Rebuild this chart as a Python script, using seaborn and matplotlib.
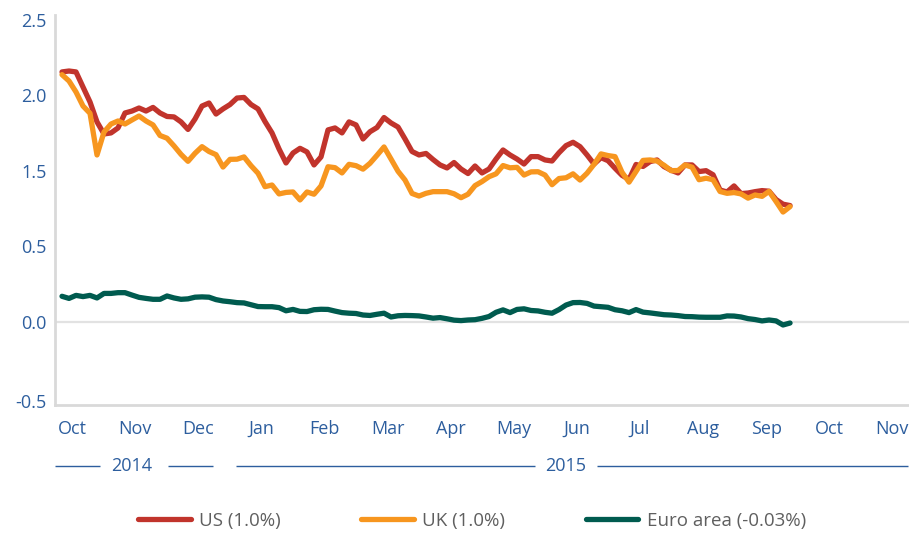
import numpy as np
import pandas as pd
import matplotlib
matplotlib.use("Agg")
import matplotlib.pyplot as plt
import matplotlib.transforms as mtransforms
import seaborn as sns

# ---------------- data ----------------
months = ["Oct", "Nov", "Dec", "Jan", "Feb", "Mar", "Apr", "May", "Jun",
          "Jul", "Aug", "Sep", "Oct", "Nov"]
ytick_values = [-0.5, 0.0, 0.5, 1.0, 1.5, 2.0]
ytick_labels = ["-0.5", "0.0", "0.5", "1.5", "2.0", "2.5"]
series_names = ["US (1.0%)", "UK (1.0%)", "Euro area (-0.03%)"]
colors = ["#c1342c", "#f7961f", "#005b4f"]

# first and last observation, in month positions (0 = first "Oct" label)
obs_start, obs_end = -0.158, 11.379

us = [1.656, 1.662, 1.656, 1.556, 1.457, 1.325, 1.245, 1.252, 1.285, 1.384,
      1.397, 1.417, 1.397, 1.421, 1.384, 1.361, 1.358, 1.325, 1.275, 1.344,
      1.430, 1.450, 1.377, 1.411, 1.440, 1.483, 1.487, 1.440, 1.411, 1.327,
      1.252, 1.146, 1.053, 1.119, 1.150, 1.126, 1.040, 1.093, 1.272, 1.285,
      1.252, 1.325, 1.305, 1.212, 1.260, 1.288, 1.354, 1.318, 1.291, 1.212,
      1.129, 1.106, 1.116, 1.076, 1.040, 1.020, 1.056, 1.013, 0.983, 1.033,
      0.987, 1.013, 1.079, 1.139, 1.106, 1.079, 1.046, 1.095, 1.095, 1.073,
      1.066, 1.121, 1.168, 1.190, 1.161, 1.106, 1.046, 1.088, 1.068, 1.018,
      0.971, 0.944, 1.043, 1.030, 1.062, 1.073, 1.029, 1.005, 0.987, 1.040,
      1.040, 0.996, 1.002, 0.975, 0.874, 0.861, 0.901, 0.850, 0.854, 0.863,
      0.870, 0.866, 0.811, 0.780, 0.771]

uk = [1.638, 1.596, 1.523, 1.430, 1.382, 1.106, 1.258, 1.311, 1.331, 1.311,
      1.338, 1.364, 1.331, 1.305, 1.235, 1.217, 1.166, 1.110, 1.064, 1.117,
      1.161, 1.129, 1.108, 1.026, 1.077, 1.078, 1.093, 1.035, 0.985, 0.896,
      0.907, 0.848, 0.858, 0.861, 0.808, 0.861, 0.846, 0.901, 1.028, 1.022,
      0.987, 1.044, 1.035, 1.012, 1.051, 1.104, 1.159, 1.079, 0.998, 0.940,
      0.851, 0.834, 0.852, 0.863, 0.863, 0.863, 0.849, 0.823, 0.846, 0.903,
      0.930, 0.962, 0.981, 1.036, 1.021, 1.024, 0.973, 0.994, 0.995, 0.973,
      0.909, 0.950, 0.955, 0.981, 0.940, 0.985, 1.044, 1.113, 1.102, 1.095,
      0.991, 0.926, 0.997, 1.070, 1.073, 1.066, 1.038, 1.002, 1.003, 1.040,
      1.025, 0.942, 0.952, 0.942, 0.864, 0.852, 0.857, 0.848, 0.820, 0.841,
      0.832, 0.865, 0.798, 0.728, 0.764]

euro = [0.170, 0.156, 0.176, 0.168, 0.176, 0.159, 0.189, 0.189, 0.194, 0.194,
        0.178, 0.163, 0.156, 0.150, 0.150, 0.172, 0.159, 0.150, 0.153, 0.164,
        0.166, 0.164, 0.148, 0.139, 0.134, 0.128, 0.126, 0.114, 0.102, 0.101,
        0.101, 0.095, 0.074, 0.083, 0.070, 0.069, 0.081, 0.084, 0.083, 0.072,
        0.062, 0.058, 0.056, 0.046, 0.043, 0.051, 0.058, 0.033, 0.041, 0.043,
        0.042, 0.040, 0.033, 0.025, 0.029, 0.021, 0.012, 0.009, 0.013, 0.015,
        0.024, 0.036, 0.064, 0.080, 0.062, 0.083, 0.087, 0.076, 0.073, 0.064,
        0.058, 0.082, 0.112, 0.128, 0.129, 0.123, 0.105, 0.101, 0.097, 0.081,
        0.074, 0.062, 0.082, 0.065, 0.060, 0.054, 0.048, 0.046, 0.042, 0.036,
        0.035, 0.032, 0.031, 0.031, 0.031, 0.040, 0.039, 0.033, 0.022, 0.016,
        0.007, 0.013, 0.007, -0.020, -0.007]

frames = []
for name, vals in zip(series_names, [us, uk, euro]):
    frames.append(pd.DataFrame({
        "x": np.linspace(obs_start, obs_end, len(vals)),
        "value": vals,
        "series": name,
    }))
df = pd.concat(frames, ignore_index=True)

# ---------------- style ----------------
sns.set_theme(style="white")
plt.rcParams["font.family"] = ["Open Sans", "DejaVu Sans"]

tick_blue = "#2d5e9e"
legend_gray = "#5f5f5f"
spine_gray = "#d9d9d9"

W, H = 909, 535
fig = plt.figure(figsize=(W / 100, H / 100), dpi=100)
ax = fig.add_axes([55 / W, 1 - 405 / H, 854 / W, 390 / H])

ax.axhline(0, color="#e2e2e2", lw=1.6, zorder=0)

sns.lineplot(data=df, x="x", y="value", hue="series", hue_order=series_names,
             palette=colors, linewidth=3.8, estimator=None, sort=False,
             legend=False, ax=ax)
for ln in ax.get_lines():
    ln.set_solid_capstyle("round")
    ln.set_solid_joinstyle("round")

ax.set_xlim(-0.269, 13.264)
ax.set_ylim(-0.55, 2.033)
ax.set_xticks(range(len(months)))
ax.set_xticklabels(months)
ax.set_yticks(ytick_values)
ax.set_yticklabels(ytick_labels)
ax.set_xlabel("")
ax.set_ylabel("")
ax.tick_params(axis="x", length=0, pad=11, labelsize=13, labelcolor=tick_blue)
ax.tick_params(axis="y", length=0, pad=6, labelsize=13, labelcolor=tick_blue)
ax.grid(False)

# the lowest y label sits a little lower, next to the bottom axis line
low_lbl = ax.get_yticklabels()[0]
low_lbl.set_transform(low_lbl.get_transform() +
                      mtransforms.ScaledTranslation(0, -4 / 100, fig.dpi_scale_trans))

for s in ["top", "right"]:
    ax.spines[s].set_visible(False)
for s in ["left", "bottom"]:
    ax.spines[s].set_color(spine_gray)
    ax.spines[s].set_linewidth(2)

# year brackets under month labels
trans = mtransforms.blended_transform_factory(ax.transData, ax.transAxes)
yy = -0.157
year_groups = [
    ("2014", 0.951, [(-0.269, 0.444), (1.521, 2.235)]),
    ("2015", 7.829, [(2.599, 7.338), (8.320, 13.249)]),
]
for label, xc, segs in year_groups:
    for x0, x1 in segs:
        ax.plot([x0, x1], [yy, yy], transform=trans, color=tick_blue,
                lw=1.0, clip_on=False, solid_capstyle="butt")
    ax.text(xc, yy, label, transform=trans, ha="center", va="center",
            fontsize=13, color=tick_blue)

# legend
handles = ax.get_lines()[1:4]
leg = fig.legend(handles, series_names, loc="center left",
                 bbox_to_anchor=(138 / W, 1 - 521 / H), ncol=3, frameon=False,
                 fontsize=13.5, handlelength=2.8, handletextpad=0.45,
                 columnspacing=4.3, borderpad=0, borderaxespad=0)
for t in leg.get_texts():
    t.set_color(legend_gray)

fig.savefig("out.png", dpi=100)
